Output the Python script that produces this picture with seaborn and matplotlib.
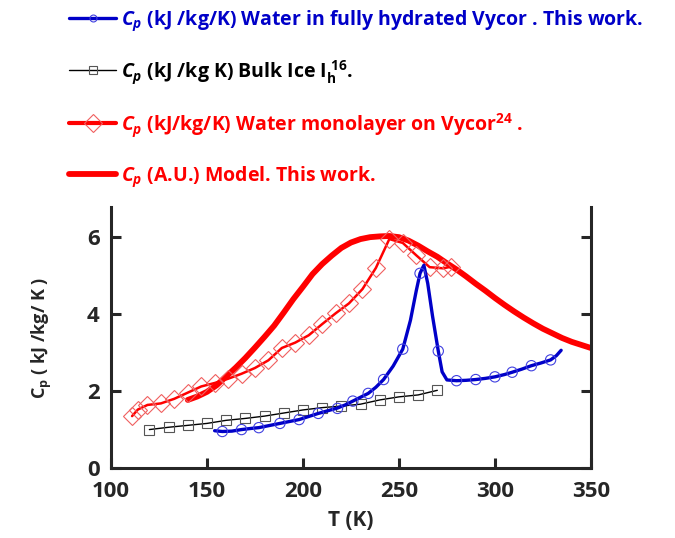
import numpy as np
import pandas as pd
import seaborn as sns
import matplotlib.pyplot as plt
from matplotlib.lines import Line2D

# Water in fully hydrated Vycor (line + circle markers)
t_vycor = [154, 158, 163, 168, 173, 177, 182, 188, 193, 198, 203, 208, 213, 218, 222,
           226, 230, 234, 238, 242, 247, 252, 256, 259, 261, 263, 265, 267.5, 270.5,
           272.5, 275, 280, 285, 290, 295, 300, 305, 309, 314, 319, 324, 329, 332, 334.5]
cp_vycor = [0.97, 0.95, 0.96, 1.00, 1.03, 1.05, 1.10, 1.16, 1.21, 1.26, 1.34, 1.42, 1.49,
            1.56, 1.64, 1.74, 1.84, 1.94, 2.10, 2.30, 2.65, 3.09, 3.84, 4.60, 5.06, 5.27,
            4.80, 3.95, 3.04, 2.50, 2.29, 2.27, 2.28, 2.30, 2.33, 2.37, 2.43, 2.49, 2.57,
            2.66, 2.73, 2.81, 2.92, 3.06]
t_vycor_pts = [158, 168, 177, 188, 198, 208, 218, 226, 234, 242, 252, 261, 270.5,
               280, 290, 300, 309, 319, 329]
cp_vycor_pts = [0.95, 1.00, 1.05, 1.16, 1.26, 1.42, 1.55, 1.74, 1.94, 2.30, 3.09, 5.06,
                3.04, 2.27, 2.30, 2.37, 2.49, 2.66, 2.81]

# Bulk ice Ih
t_ice = [120, 130, 140, 150, 160, 170, 180, 190, 200, 210, 220, 230, 240, 250, 260, 270]
cp_ice = [1.00, 1.06, 1.11, 1.16, 1.24, 1.29, 1.35, 1.43, 1.51, 1.57, 1.61, 1.66,
          1.77, 1.85, 1.90, 2.02]

# Water monolayer on Vycor
t_mono = [111, 114, 119, 126, 133, 140, 147, 154, 161, 168, 175, 182, 189, 196, 203,
          210, 217, 224, 231, 238, 245, 252, 259, 266, 273, 277]
cp_mono = [1.35, 1.52, 1.64, 1.68, 1.80, 1.96, 2.12, 2.21, 2.32, 2.45, 2.60, 2.80, 3.12,
           3.26, 3.45, 3.74, 4.02, 4.28, 4.65, 5.20, 5.95, 5.85, 5.53, 5.22, 5.19, 5.23]

# Model (arbitrary units)
t_model = [140, 145, 150, 155, 160, 165, 170, 175, 180, 185, 190, 195, 200, 205, 210,
           215, 220, 225, 230, 235, 240, 245, 250, 255, 260, 265, 270, 275, 280, 285,
           290, 295, 300, 305, 310, 315, 320, 325, 330, 335, 340, 345, 350]
cp_model = [1.77, 1.86, 1.98, 2.15, 2.38, 2.61, 2.86, 3.13, 3.41, 3.70, 4.04, 4.39, 4.71,
            5.04, 5.30, 5.52, 5.72, 5.86, 5.95, 6.00, 6.02, 6.03, 6.00, 5.91, 5.78, 5.63,
            5.49, 5.32, 5.16, 4.98, 4.79, 4.61, 4.42, 4.24, 4.07, 3.91, 3.76, 3.62, 3.50,
            3.38, 3.28, 3.20, 3.12]

x_ticks = [100, 150, 200, 250, 300, 350]
y_ticks = [0, 2, 4, 6]

BLUE = '#0000c8'
RED = '#ff0000'
FONT = ['Open Sans', 'DejaVu Sans']

sns.set_style('ticks')
plt.rcParams['font.family'] = FONT
plt.rcParams['font.weight'] = 'bold'
plt.rcParams['mathtext.fontset'] = 'custom'
plt.rcParams['mathtext.rm'] = 'Open Sans:bold'
plt.rcParams['mathtext.it'] = 'Open Sans:bold:italic'
plt.rcParams['mathtext.bf'] = 'Open Sans:bold'

fig = plt.figure(figsize=(6.75, 5.38), dpi=100)
ax = fig.add_axes([0.1644, 0.130, 0.711, 0.485])

# model curve (thick)
sns.lineplot(x=t_model, y=cp_model, ax=ax, color=RED, lw=4.2, sort=False,
             estimator=None, zorder=2)
# monolayer data
sns.lineplot(x=t_mono, y=cp_mono, ax=ax, color=RED, lw=1.8, sort=False,
             estimator=None, marker='D', markersize=9, markerfacecolor='none',
             markeredgecolor='#f06060', markeredgewidth=0.8, zorder=3)
# bulk ice
sns.lineplot(x=t_ice, y=cp_ice, ax=ax, color='black', lw=1.0, sort=False,
             estimator=None, marker='s', markersize=7, markerfacecolor='none',
             markeredgecolor='#555555', markeredgewidth=0.8, zorder=3)
# fully hydrated Vycor
sns.lineplot(x=t_vycor, y=cp_vycor, ax=ax, color=BLUE, lw=2.4, sort=False,
             estimator=None, zorder=4)
sns.scatterplot(x=t_vycor_pts, y=cp_vycor_pts, ax=ax, s=55, facecolor='none',
                edgecolor='#4040e0', linewidth=0.8, zorder=5)

ax.set_xlim(100, 350)
ax.set_ylim(0, 6.78)
ax.set_xticks(x_ticks)
ax.set_yticks(y_ticks)
ax.tick_params(direction='in', length=7, width=2.2, labelsize=16, right=True,
               labelright=False)
ax.tick_params(axis='x', pad=9)
ax.tick_params(axis='y', pad=8)
for lab in ax.get_xticklabels() + ax.get_yticklabels():
    lab.set_fontweight('bold')
ax.spines['top'].set_visible(False)
for s in ['left', 'right', 'bottom']:
    ax.spines[s].set_linewidth(2.2)

ax.set_xlabel('T (K)', fontsize=15, fontweight='bold', labelpad=6)
ax.set_ylabel(r'C$_{\mathrm{p}}$ ( kJ /kg/ K )', fontsize=13, fontweight='bold', labelpad=24)

handles = [
    Line2D([], [], color=BLUE, lw=2.4, marker='o', markersize=5, markerfacecolor='none',
           markeredgecolor='#4040e0', markeredgewidth=0.8),
    Line2D([], [], color='black', lw=1.0, marker='s', markersize=6, markerfacecolor='none',
           markeredgecolor='#555555', markeredgewidth=0.8),
    Line2D([], [], color=RED, lw=3.0, marker='D', markersize=9, markerfacecolor='none',
           markeredgecolor='#f06060', markeredgewidth=0.8),
    Line2D([], [], color=RED, lw=4.2),
]
labels = [
    r'$\mathit{C}_{\mathit{p}}$ (kJ /kg/K) Water in fully hydrated Vycor . This work.',
    r'$\mathit{C}_{\mathit{p}}$ (kJ /kg K) Bulk Ice I$_{\mathrm{h}}^{\ 16}$.',
    r'$\mathit{C}_{\mathit{p}}$ (kJ/kg/K) Water monolayer on Vycor$^{24}$ .',
    r'$\mathit{C}_{\mathit{p}}$ (A.U.) Model. This work.',
]
fig.legend(handles, labels, loc='upper left', bbox_to_anchor=(0.077, 1.018),
           frameon=False, handlelength=2.4, handletextpad=0.25,
           labelspacing=1.3, labelcolor=[BLUE, 'black', RED, RED],
           prop={'family': FONT, 'weight': 'bold', 'size': 14})

fig.savefig('out.png', dpi=100)
